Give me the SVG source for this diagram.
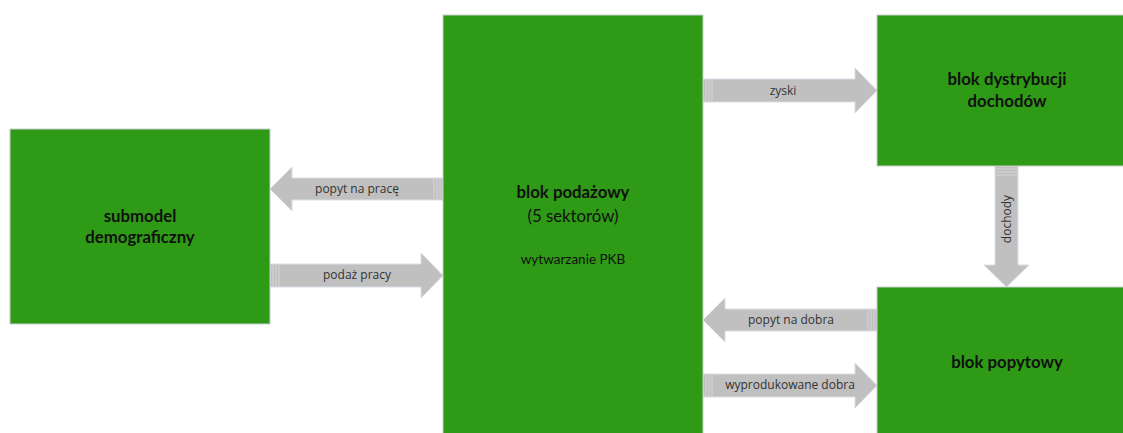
<svg xmlns="http://www.w3.org/2000/svg" width="1123" height="433" viewBox="0 0 1123 433">
<style>
.node{fill:#2E9A15;stroke:#C9CDD2;stroke-width:1}
.title{font-family:Lato,"Open Sans","Liberation Sans",sans-serif;font-weight:bold;font-size:16.8px;fill:#111;text-anchor:middle}
.sub{font-family:Lato,"Open Sans","Liberation Sans",sans-serif;font-size:16.8px;fill:#111;text-anchor:middle}
.small{font-family:Lato,"Open Sans","Liberation Sans",sans-serif;font-size:13.5px;fill:#111;text-anchor:middle}
.arrow{fill:#C0C0C0;stroke:#D8DEE6;stroke-width:1}
.stripe{stroke:#D6D6D6;stroke-width:1}
.lbl{font-family:"Open Sans","Liberation Sans",sans-serif;font-size:12px;fill:#333;text-anchor:middle}
</style>
<rect width="1123" height="433" fill="#FFFFFF"/>
<g id="connectors">
  <g id="popyt-na-prace">
    <path class="arrow" d="M443,178 L292,178 L292,167 L270,189 L292,211 L292,200 L443,200 Z"/>
    <line class="stripe" x1="434" y1="178.5" x2="434" y2="199.5"/>
    <line class="stripe" x1="437" y1="178.5" x2="437" y2="199.5"/>
    <line class="stripe" x1="440" y1="178.5" x2="440" y2="199.5"/>
    <text class="lbl" x="357" y="193">popyt na pracę</text>
  </g>
  <g id="podaz-pracy">
    <path class="arrow" d="M270,264 L421,264 L421,253 L443,275.5 L421,298 L421,287 L270,287 Z"/>
    <line class="stripe" x1="273" y1="264.5" x2="273" y2="286.5"/>
    <line class="stripe" x1="276" y1="264.5" x2="276" y2="286.5"/>
    <line class="stripe" x1="279" y1="264.5" x2="279" y2="286.5"/>
    <text class="lbl" x="357" y="279">podaż pracy</text>
  </g>
  <g id="zyski">
    <path class="arrow" d="M703,79 L855,79 L855,68 L877,90.5 L855,113 L855,102 L703,102 Z"/>
    <line class="stripe" x1="706" y1="79.5" x2="706" y2="101.5"/>
    <line class="stripe" x1="709" y1="79.5" x2="709" y2="101.5"/>
    <line class="stripe" x1="712" y1="79.5" x2="712" y2="101.5"/>
    <text class="lbl" x="783" y="94.5">zyski</text>
  </g>
  <g id="dochody">
    <path class="arrow" d="M995,166 L995,265 L984,265 L1006.5,287 L1029,265 L1018,265 L1018,166 Z"/>
    <line class="stripe" x1="995.5" y1="169" x2="1017.5" y2="169"/>
    <line class="stripe" x1="995.5" y1="172" x2="1017.5" y2="172"/>
    <line class="stripe" x1="995.5" y1="175" x2="1017.5" y2="175"/>
    <text class="lbl" transform="translate(1011,219) rotate(-90)" x="0" y="0">dochody</text>
  </g>
  <g id="popyt-na-dobra">
    <path class="arrow" d="M877,309 L725,309 L725,298 L703,320 L725,342 L725,331 L877,331 Z"/>
    <line class="stripe" x1="868" y1="309.5" x2="868" y2="330.5"/>
    <line class="stripe" x1="871" y1="309.5" x2="871" y2="330.5"/>
    <line class="stripe" x1="874" y1="309.5" x2="874" y2="330.5"/>
    <text class="lbl" x="791" y="324">popyt na dobra</text>
  </g>
  <g id="wyprodukowane-dobra">
    <path class="arrow" d="M703,374 L855,374 L855,363 L877,385.5 L855,408 L855,397 L703,397 Z"/>
    <line class="stripe" x1="706" y1="374.5" x2="706" y2="396.5"/>
    <line class="stripe" x1="709" y1="374.5" x2="709" y2="396.5"/>
    <line class="stripe" x1="712" y1="374.5" x2="712" y2="396.5"/>
    <text class="lbl" x="790" y="389">wyprodukowane dobra</text>
  </g>
</g>
<g id="submodel-demograficzny">
  <rect class="node" x="10" y="129" width="260" height="195"/>
  <text class="title" x="140" y="222">submodel</text>
  <text class="title" x="140" y="243">demograficzny</text>
</g>
<g id="blok-podazowy">
  <rect class="node" x="443" y="15" width="260" height="430"/>
  <text class="title" x="573" y="198">blok podażowy</text>
  <text class="sub" x="573" y="222">(5 sektorów)</text>
  <text class="small" x="573" y="264">wytwarzanie PKB</text>
</g>
<g id="blok-dystrybucji-dochodow">
  <rect class="node" x="877" y="15" width="260" height="151"/>
  <text class="title" x="1007" y="85">blok dystrybucji</text>
  <text class="title" x="1007" y="107">dochodów</text>
</g>
<g id="blok-popytowy">
  <rect class="node" x="877" y="287" width="260" height="160"/>
  <text class="title" x="1007" y="368">blok popytowy</text>
</g>
</svg>
